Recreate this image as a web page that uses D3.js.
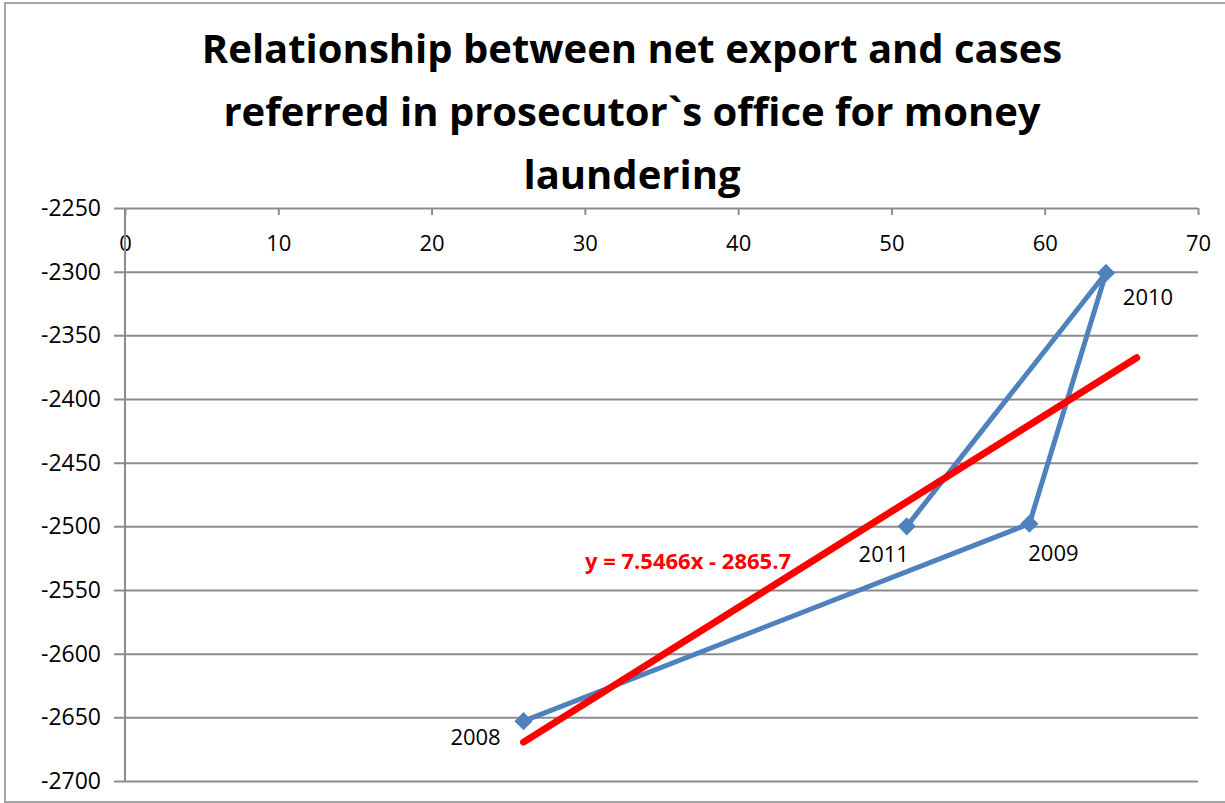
<!DOCTYPE html>
<html>
<head>
<meta charset="utf-8">
<script src="https://cdn.jsdelivr.net/npm/d3@7"></script>
<style>
  body { margin: 0; background: #fff; }
  svg text { font-family: "Open Sans", "Liberation Sans", sans-serif; }
</style>
</head>
<body>
<svg width="1225" height="803"></svg>
<script>
// chart data
var years = ["2008", "2009", "2010", "2011"];
var cases = [26, 59, 64, 51];
var netExport = [-2653, -2498, -2301, -2500];
var xTicks = [0, 10, 20, 30, 40, 50, 60, 70];
var yTicks = [-2250, -2300, -2350, -2400, -2450, -2500, -2550, -2600, -2650, -2700];
var trendSlope = 7.5466, trendIntercept = -2865.7;
var trendRange = [26, 66];
var titleLines = ["Relationship between net export and cases",
                  "referred in prosecutor`s office for money",
                  "laundering"];

var svg = d3.select("svg"),
  margin = {top: 208, left: 125},
  width = 1198 - 125,
  height = 781 - 208;

// outer frame
svg.append("rect")
  .attr("x", 5).attr("y", 3)
  .attr("width", 1240).attr("height", 799)
  .attr("fill", "none")
  .attr("stroke", "#a6a6a6")
  .attr("stroke-width", 2);

// title
svg.append("g").selectAll("text")
  .data(titleLines)
  .enter().append("text")
  .attr("x", 632)
  .attr("y", function(d, i) { return 63 + i * 63; })
  .attr("text-anchor", "middle")
  .style("font-size", "40px")
  .style("font-weight", "bold")
  .attr("fill", "#000")
  .text(function(d) { return d; });

var x = d3.scaleLinear().domain([0, 70]).range([0, width]),
  y = d3.scaleLinear().domain([-2250, -2700]).range([0, height]);

var g = svg.append("g")
  .attr("transform", "translate(" + margin.left + "," + margin.top + ")");

// horizontal gridlines with outer ticks on the left
g.append("g")
  .attr("class", "axis axis--y")
  .call(d3.axisLeft(y).tickValues(yTicks).tickFormat(function(d) { return String(d); })
    .tickSize(-width).tickPadding(24))
  .call(function(a) {
    a.select(".domain").remove();
    a.selectAll(".tick line").attr("x1", -11).attr("stroke", "#8c8c8c").attr("stroke-width", 2);
    a.selectAll(".tick text").style("font-size", "23px").attr("fill", "#000");
  });

// x axis along the top, labels below the line
g.append("g")
  .attr("class", "axis axis--x")
  .call(d3.axisBottom(x).tickValues(xTicks).tickSize(7).tickPadding(20))
  .call(function(a) {
    a.select(".domain").attr("stroke", "none");
    a.selectAll(".tick line").attr("stroke", "#8c8c8c").attr("stroke-width", 2);
    a.selectAll(".tick text").style("font-size", "22px").attr("fill", "#000");
  });

// vertical axis line at x = 0
g.append("line")
  .attr("x1", x(0)).attr("x2", x(0))
  .attr("y1", 0).attr("y2", height)
  .attr("stroke", "#8c8c8c")
  .attr("stroke-width", 2);

var data = years.map(function(d, i) {
  return {year: d, cases: cases[i], value: netExport[i]};
});

// series line
var line = d3.line()
  .x(function(d) { return x(d.cases); })
  .y(function(d) { return y(d.value); });

g.append("path")
  .datum(data)
  .attr("d", line)
  .attr("fill", "none")
  .attr("stroke", "#4f81bd")
  .attr("stroke-width", 5)
  .attr("stroke-linejoin", "round");

// trend line
var trend = trendRange.map(function(v) {
  return {cases: v, value: trendSlope * v + trendIntercept};
});
g.append("path")
  .datum(trend)
  .attr("d", line)
  .attr("fill", "none")
  .attr("stroke", "#ff0000")
  .attr("stroke-width", 7)
  .attr("stroke-linecap", "round");

// markers
g.selectAll(".marker")
  .data(data)
  .enter().append("path")
  .attr("class", "marker")
  .attr("d", d3.symbol().type(d3.symbolSquare).size(165))
  .attr("transform", function(d) { return "translate(" + x(d.cases) + "," + y(d.value) + ")rotate(45)"; })
  .attr("fill", "#4f81bd");

// data labels
var labelOffsets = {
  "2008": [-48, 24],
  "2009": [24, 37],
  "2010": [42, 32],
  "2011": [-23, 36]
};
g.selectAll(".label")
  .data(data)
  .enter().append("text")
  .attr("class", "label")
  .attr("x", function(d) { return x(d.cases) + labelOffsets[d.year][0]; })
  .attr("y", function(d) { return y(d.value) + labelOffsets[d.year][1]; })
  .attr("text-anchor", "middle")
  .style("font-size", "22px")
  .attr("fill", "#000")
  .text(function(d) { return d.year; });

// trend equation
svg.append("text")
  .attr("x", 688)
  .attr("y", 569)
  .attr("text-anchor", "middle")
  .style("font-size", "22px")
  .style("font-weight", "bold")
  .attr("fill", "#ff0000")
  .text("y = " + trendSlope + "x - " + Math.abs(trendIntercept));
</script>
</body>
</html>
